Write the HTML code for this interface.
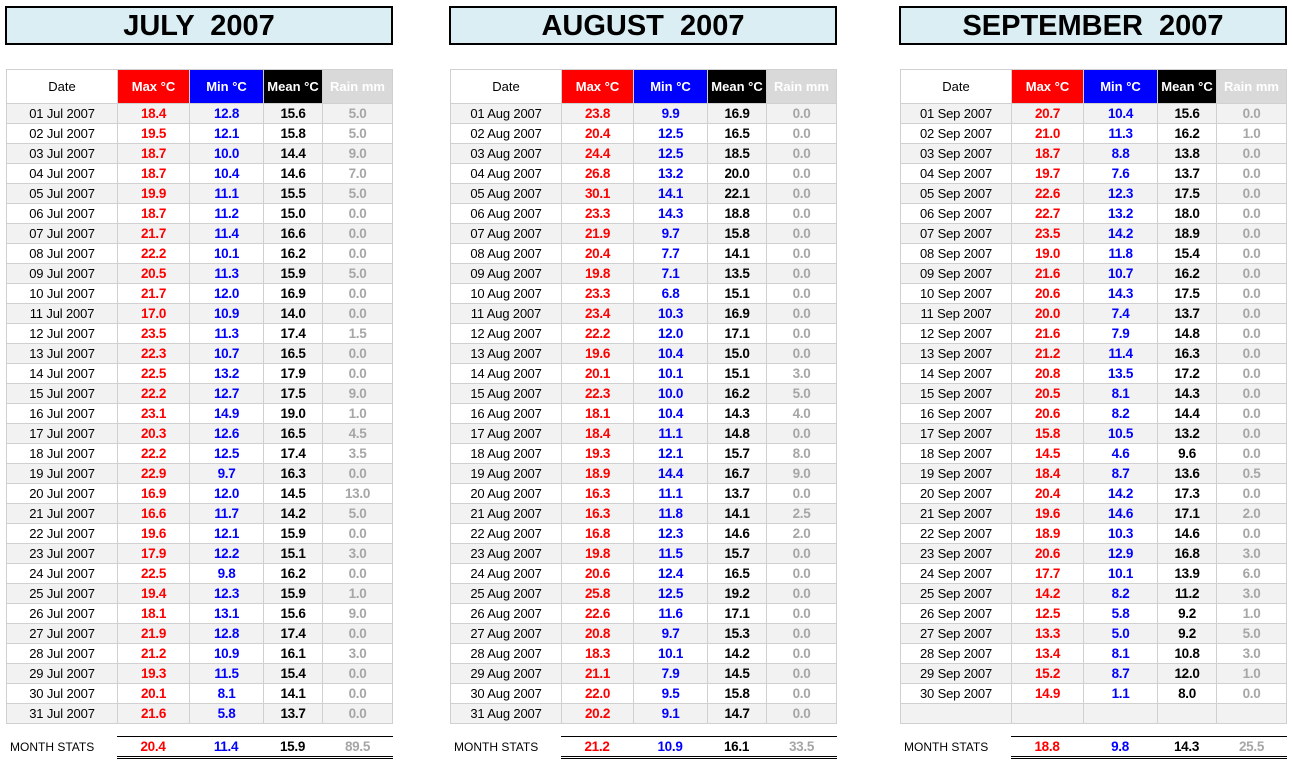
<!DOCTYPE html>
<html><head><meta charset="utf-8"><style>
body{margin:0;width:1293px;height:765px;background:#fff;position:relative;overflow:hidden;font-family:"Liberation Sans",Arial,sans-serif;color:#000}
.title{position:absolute;top:6px;width:384px;height:35px;border:2px solid #000;background:#daeef3;text-align:center;font-weight:bold;font-size:29px;line-height:36px;white-space:pre}
table{position:absolute;top:69px;border-collapse:separate;border-spacing:0;table-layout:fixed;width:387px;border-left:1px solid #d0d0d0;border-top:1px solid #d0d0d0}
td{box-sizing:border-box;height:20px;padding:0;border-right:1px solid #d0d0d0;border-bottom:1px solid #d0d0d0;text-align:center;font-size:13.5px;letter-spacing:-0.3px;font-weight:bold;white-space:nowrap;overflow:hidden;line-height:19px;vertical-align:middle}
tr.h td{height:34px;line-height:33px;color:#fff;letter-spacing:0;font-size:13px}
tr.h td.hd{color:#000;font-weight:normal;background:#fff}
.hx{background:#f00}.hn{background:#00f}.hm{background:#000}.hr{background:#d9d9d9}
tr.s td{background:#f2f2f2}
td.d{font-weight:normal;font-size:13px;letter-spacing:-0.15px}
.x{color:#f00}.n{color:#00f}.r{color:#a6a6a6}
.st{position:absolute;top:736px;width:276px;height:19px;border-top:1px solid #000;border-bottom:3px double #000;display:flex;font-weight:bold;font-size:13.5px;letter-spacing:-0.3px;line-height:20px}
.st div{text-align:center}
.lbl{position:absolute;top:737px;font-size:12px;line-height:20px}
</style></head><body>

<div class="title" style="left:5px">JULY  2007</div>
<div class="title" style="left:449px">AUGUST  2007</div>
<div class="title" style="left:899px">SEPTEMBER  2007</div>

<table style="left:6px">
<tr class="h"><td class="hd" style="width:111px">Date</td><td class="hx" style="width:72px">Max °C</td><td class="hn" style="width:74px">Min °C</td><td class="hm" style="width:59px">Mean °C</td><td class="hr" style="width:70px">Rain mm</td></tr>
<tr class="s"><td class="d">01 Jul 2007</td><td class="x">18.4</td><td class="n">12.8</td><td>15.6</td><td class="r">5.0</td></tr>
<tr><td class="d">02 Jul 2007</td><td class="x">19.5</td><td class="n">12.1</td><td>15.8</td><td class="r">5.0</td></tr>
<tr class="s"><td class="d">03 Jul 2007</td><td class="x">18.7</td><td class="n">10.0</td><td>14.4</td><td class="r">9.0</td></tr>
<tr><td class="d">04 Jul 2007</td><td class="x">18.7</td><td class="n">10.4</td><td>14.6</td><td class="r">7.0</td></tr>
<tr class="s"><td class="d">05 Jul 2007</td><td class="x">19.9</td><td class="n">11.1</td><td>15.5</td><td class="r">5.0</td></tr>
<tr><td class="d">06 Jul 2007</td><td class="x">18.7</td><td class="n">11.2</td><td>15.0</td><td class="r">0.0</td></tr>
<tr class="s"><td class="d">07 Jul 2007</td><td class="x">21.7</td><td class="n">11.4</td><td>16.6</td><td class="r">0.0</td></tr>
<tr><td class="d">08 Jul 2007</td><td class="x">22.2</td><td class="n">10.1</td><td>16.2</td><td class="r">0.0</td></tr>
<tr class="s"><td class="d">09 Jul 2007</td><td class="x">20.5</td><td class="n">11.3</td><td>15.9</td><td class="r">5.0</td></tr>
<tr><td class="d">10 Jul 2007</td><td class="x">21.7</td><td class="n">12.0</td><td>16.9</td><td class="r">0.0</td></tr>
<tr class="s"><td class="d">11 Jul 2007</td><td class="x">17.0</td><td class="n">10.9</td><td>14.0</td><td class="r">0.0</td></tr>
<tr><td class="d">12 Jul 2007</td><td class="x">23.5</td><td class="n">11.3</td><td>17.4</td><td class="r">1.5</td></tr>
<tr class="s"><td class="d">13 Jul 2007</td><td class="x">22.3</td><td class="n">10.7</td><td>16.5</td><td class="r">0.0</td></tr>
<tr><td class="d">14 Jul 2007</td><td class="x">22.5</td><td class="n">13.2</td><td>17.9</td><td class="r">0.0</td></tr>
<tr class="s"><td class="d">15 Jul 2007</td><td class="x">22.2</td><td class="n">12.7</td><td>17.5</td><td class="r">9.0</td></tr>
<tr><td class="d">16 Jul 2007</td><td class="x">23.1</td><td class="n">14.9</td><td>19.0</td><td class="r">1.0</td></tr>
<tr class="s"><td class="d">17 Jul 2007</td><td class="x">20.3</td><td class="n">12.6</td><td>16.5</td><td class="r">4.5</td></tr>
<tr><td class="d">18 Jul 2007</td><td class="x">22.2</td><td class="n">12.5</td><td>17.4</td><td class="r">3.5</td></tr>
<tr class="s"><td class="d">19 Jul 2007</td><td class="x">22.9</td><td class="n">9.7</td><td>16.3</td><td class="r">0.0</td></tr>
<tr><td class="d">20 Jul 2007</td><td class="x">16.9</td><td class="n">12.0</td><td>14.5</td><td class="r">13.0</td></tr>
<tr class="s"><td class="d">21 Jul 2007</td><td class="x">16.6</td><td class="n">11.7</td><td>14.2</td><td class="r">5.0</td></tr>
<tr><td class="d">22 Jul 2007</td><td class="x">19.6</td><td class="n">12.1</td><td>15.9</td><td class="r">0.0</td></tr>
<tr class="s"><td class="d">23 Jul 2007</td><td class="x">17.9</td><td class="n">12.2</td><td>15.1</td><td class="r">3.0</td></tr>
<tr><td class="d">24 Jul 2007</td><td class="x">22.5</td><td class="n">9.8</td><td>16.2</td><td class="r">0.0</td></tr>
<tr class="s"><td class="d">25 Jul 2007</td><td class="x">19.4</td><td class="n">12.3</td><td>15.9</td><td class="r">1.0</td></tr>
<tr><td class="d">26 Jul 2007</td><td class="x">18.1</td><td class="n">13.1</td><td>15.6</td><td class="r">9.0</td></tr>
<tr class="s"><td class="d">27 Jul 2007</td><td class="x">21.9</td><td class="n">12.8</td><td>17.4</td><td class="r">0.0</td></tr>
<tr><td class="d">28 Jul 2007</td><td class="x">21.2</td><td class="n">10.9</td><td>16.1</td><td class="r">3.0</td></tr>
<tr class="s"><td class="d">29 Jul 2007</td><td class="x">19.3</td><td class="n">11.5</td><td>15.4</td><td class="r">0.0</td></tr>
<tr><td class="d">30 Jul 2007</td><td class="x">20.1</td><td class="n">8.1</td><td>14.1</td><td class="r">0.0</td></tr>
<tr class="s"><td class="d">31 Jul 2007</td><td class="x">21.6</td><td class="n">5.8</td><td>13.7</td><td class="r">0.0</td></tr>
</table>

<table style="left:450px">
<tr class="h"><td class="hd" style="width:111px">Date</td><td class="hx" style="width:72px">Max °C</td><td class="hn" style="width:74px">Min °C</td><td class="hm" style="width:59px">Mean °C</td><td class="hr" style="width:70px">Rain mm</td></tr>
<tr class="s"><td class="d">01 Aug 2007</td><td class="x">23.8</td><td class="n">9.9</td><td>16.9</td><td class="r">0.0</td></tr>
<tr><td class="d">02 Aug 2007</td><td class="x">20.4</td><td class="n">12.5</td><td>16.5</td><td class="r">0.0</td></tr>
<tr class="s"><td class="d">03 Aug 2007</td><td class="x">24.4</td><td class="n">12.5</td><td>18.5</td><td class="r">0.0</td></tr>
<tr><td class="d">04 Aug 2007</td><td class="x">26.8</td><td class="n">13.2</td><td>20.0</td><td class="r">0.0</td></tr>
<tr class="s"><td class="d">05 Aug 2007</td><td class="x">30.1</td><td class="n">14.1</td><td>22.1</td><td class="r">0.0</td></tr>
<tr><td class="d">06 Aug 2007</td><td class="x">23.3</td><td class="n">14.3</td><td>18.8</td><td class="r">0.0</td></tr>
<tr class="s"><td class="d">07 Aug 2007</td><td class="x">21.9</td><td class="n">9.7</td><td>15.8</td><td class="r">0.0</td></tr>
<tr><td class="d">08 Aug 2007</td><td class="x">20.4</td><td class="n">7.7</td><td>14.1</td><td class="r">0.0</td></tr>
<tr class="s"><td class="d">09 Aug 2007</td><td class="x">19.8</td><td class="n">7.1</td><td>13.5</td><td class="r">0.0</td></tr>
<tr><td class="d">10 Aug 2007</td><td class="x">23.3</td><td class="n">6.8</td><td>15.1</td><td class="r">0.0</td></tr>
<tr class="s"><td class="d">11 Aug 2007</td><td class="x">23.4</td><td class="n">10.3</td><td>16.9</td><td class="r">0.0</td></tr>
<tr><td class="d">12 Aug 2007</td><td class="x">22.2</td><td class="n">12.0</td><td>17.1</td><td class="r">0.0</td></tr>
<tr class="s"><td class="d">13 Aug 2007</td><td class="x">19.6</td><td class="n">10.4</td><td>15.0</td><td class="r">0.0</td></tr>
<tr><td class="d">14 Aug 2007</td><td class="x">20.1</td><td class="n">10.1</td><td>15.1</td><td class="r">3.0</td></tr>
<tr class="s"><td class="d">15 Aug 2007</td><td class="x">22.3</td><td class="n">10.0</td><td>16.2</td><td class="r">5.0</td></tr>
<tr><td class="d">16 Aug 2007</td><td class="x">18.1</td><td class="n">10.4</td><td>14.3</td><td class="r">4.0</td></tr>
<tr class="s"><td class="d">17 Aug 2007</td><td class="x">18.4</td><td class="n">11.1</td><td>14.8</td><td class="r">0.0</td></tr>
<tr><td class="d">18 Aug 2007</td><td class="x">19.3</td><td class="n">12.1</td><td>15.7</td><td class="r">8.0</td></tr>
<tr class="s"><td class="d">19 Aug 2007</td><td class="x">18.9</td><td class="n">14.4</td><td>16.7</td><td class="r">9.0</td></tr>
<tr><td class="d">20 Aug 2007</td><td class="x">16.3</td><td class="n">11.1</td><td>13.7</td><td class="r">0.0</td></tr>
<tr class="s"><td class="d">21 Aug 2007</td><td class="x">16.3</td><td class="n">11.8</td><td>14.1</td><td class="r">2.5</td></tr>
<tr><td class="d">22 Aug 2007</td><td class="x">16.8</td><td class="n">12.3</td><td>14.6</td><td class="r">2.0</td></tr>
<tr class="s"><td class="d">23 Aug 2007</td><td class="x">19.8</td><td class="n">11.5</td><td>15.7</td><td class="r">0.0</td></tr>
<tr><td class="d">24 Aug 2007</td><td class="x">20.6</td><td class="n">12.4</td><td>16.5</td><td class="r">0.0</td></tr>
<tr class="s"><td class="d">25 Aug 2007</td><td class="x">25.8</td><td class="n">12.5</td><td>19.2</td><td class="r">0.0</td></tr>
<tr><td class="d">26 Aug 2007</td><td class="x">22.6</td><td class="n">11.6</td><td>17.1</td><td class="r">0.0</td></tr>
<tr class="s"><td class="d">27 Aug 2007</td><td class="x">20.8</td><td class="n">9.7</td><td>15.3</td><td class="r">0.0</td></tr>
<tr><td class="d">28 Aug 2007</td><td class="x">18.3</td><td class="n">10.1</td><td>14.2</td><td class="r">0.0</td></tr>
<tr class="s"><td class="d">29 Aug 2007</td><td class="x">21.1</td><td class="n">7.9</td><td>14.5</td><td class="r">0.0</td></tr>
<tr><td class="d">30 Aug 2007</td><td class="x">22.0</td><td class="n">9.5</td><td>15.8</td><td class="r">0.0</td></tr>
<tr class="s"><td class="d">31 Aug 2007</td><td class="x">20.2</td><td class="n">9.1</td><td>14.7</td><td class="r">0.0</td></tr>
</table>

<table style="left:900px">
<tr class="h"><td class="hd" style="width:111px">Date</td><td class="hx" style="width:72px">Max °C</td><td class="hn" style="width:74px">Min °C</td><td class="hm" style="width:59px">Mean °C</td><td class="hr" style="width:70px">Rain mm</td></tr>
<tr class="s"><td class="d">01 Sep 2007</td><td class="x">20.7</td><td class="n">10.4</td><td>15.6</td><td class="r">0.0</td></tr>
<tr><td class="d">02 Sep 2007</td><td class="x">21.0</td><td class="n">11.3</td><td>16.2</td><td class="r">1.0</td></tr>
<tr class="s"><td class="d">03 Sep 2007</td><td class="x">18.7</td><td class="n">8.8</td><td>13.8</td><td class="r">0.0</td></tr>
<tr><td class="d">04 Sep 2007</td><td class="x">19.7</td><td class="n">7.6</td><td>13.7</td><td class="r">0.0</td></tr>
<tr class="s"><td class="d">05 Sep 2007</td><td class="x">22.6</td><td class="n">12.3</td><td>17.5</td><td class="r">0.0</td></tr>
<tr><td class="d">06 Sep 2007</td><td class="x">22.7</td><td class="n">13.2</td><td>18.0</td><td class="r">0.0</td></tr>
<tr class="s"><td class="d">07 Sep 2007</td><td class="x">23.5</td><td class="n">14.2</td><td>18.9</td><td class="r">0.0</td></tr>
<tr><td class="d">08 Sep 2007</td><td class="x">19.0</td><td class="n">11.8</td><td>15.4</td><td class="r">0.0</td></tr>
<tr class="s"><td class="d">09 Sep 2007</td><td class="x">21.6</td><td class="n">10.7</td><td>16.2</td><td class="r">0.0</td></tr>
<tr><td class="d">10 Sep 2007</td><td class="x">20.6</td><td class="n">14.3</td><td>17.5</td><td class="r">0.0</td></tr>
<tr class="s"><td class="d">11 Sep 2007</td><td class="x">20.0</td><td class="n">7.4</td><td>13.7</td><td class="r">0.0</td></tr>
<tr><td class="d">12 Sep 2007</td><td class="x">21.6</td><td class="n">7.9</td><td>14.8</td><td class="r">0.0</td></tr>
<tr class="s"><td class="d">13 Sep 2007</td><td class="x">21.2</td><td class="n">11.4</td><td>16.3</td><td class="r">0.0</td></tr>
<tr><td class="d">14 Sep 2007</td><td class="x">20.8</td><td class="n">13.5</td><td>17.2</td><td class="r">0.0</td></tr>
<tr class="s"><td class="d">15 Sep 2007</td><td class="x">20.5</td><td class="n">8.1</td><td>14.3</td><td class="r">0.0</td></tr>
<tr><td class="d">16 Sep 2007</td><td class="x">20.6</td><td class="n">8.2</td><td>14.4</td><td class="r">0.0</td></tr>
<tr class="s"><td class="d">17 Sep 2007</td><td class="x">15.8</td><td class="n">10.5</td><td>13.2</td><td class="r">0.0</td></tr>
<tr><td class="d">18 Sep 2007</td><td class="x">14.5</td><td class="n">4.6</td><td>9.6</td><td class="r">0.0</td></tr>
<tr class="s"><td class="d">19 Sep 2007</td><td class="x">18.4</td><td class="n">8.7</td><td>13.6</td><td class="r">0.5</td></tr>
<tr><td class="d">20 Sep 2007</td><td class="x">20.4</td><td class="n">14.2</td><td>17.3</td><td class="r">0.0</td></tr>
<tr class="s"><td class="d">21 Sep 2007</td><td class="x">19.6</td><td class="n">14.6</td><td>17.1</td><td class="r">2.0</td></tr>
<tr><td class="d">22 Sep 2007</td><td class="x">18.9</td><td class="n">10.3</td><td>14.6</td><td class="r">0.0</td></tr>
<tr class="s"><td class="d">23 Sep 2007</td><td class="x">20.6</td><td class="n">12.9</td><td>16.8</td><td class="r">3.0</td></tr>
<tr><td class="d">24 Sep 2007</td><td class="x">17.7</td><td class="n">10.1</td><td>13.9</td><td class="r">6.0</td></tr>
<tr class="s"><td class="d">25 Sep 2007</td><td class="x">14.2</td><td class="n">8.2</td><td>11.2</td><td class="r">3.0</td></tr>
<tr><td class="d">26 Sep 2007</td><td class="x">12.5</td><td class="n">5.8</td><td>9.2</td><td class="r">1.0</td></tr>
<tr class="s"><td class="d">27 Sep 2007</td><td class="x">13.3</td><td class="n">5.0</td><td>9.2</td><td class="r">5.0</td></tr>
<tr><td class="d">28 Sep 2007</td><td class="x">13.4</td><td class="n">8.1</td><td>10.8</td><td class="r">3.0</td></tr>
<tr class="s"><td class="d">29 Sep 2007</td><td class="x">15.2</td><td class="n">8.7</td><td>12.0</td><td class="r">1.0</td></tr>
<tr><td class="d">30 Sep 2007</td><td class="x">14.9</td><td class="n">1.1</td><td>8.0</td><td class="r">0.0</td></tr>
<tr class="s"><td class="d"></td><td></td><td></td><td></td><td></td></tr>
</table>

<div class="lbl" style="left:10px">MONTH STATS</div>
<div class="st" style="left:117px"><div class="x" style="width:72px">20.4</div><div class="n" style="width:74px">11.4</div><div style="width:59px">15.9</div><div class="r" style="width:71px">89.5</div></div>

<div class="lbl" style="left:454px">MONTH STATS</div>
<div class="st" style="left:561px"><div class="x" style="width:72px">21.2</div><div class="n" style="width:74px">10.9</div><div style="width:59px">16.1</div><div class="r" style="width:71px">33.5</div></div>

<div class="lbl" style="left:904px">MONTH STATS</div>
<div class="st" style="left:1011px"><div class="x" style="width:72px">18.8</div><div class="n" style="width:74px">9.8</div><div style="width:59px">14.3</div><div class="r" style="width:71px">25.5</div></div>

</body></html>
